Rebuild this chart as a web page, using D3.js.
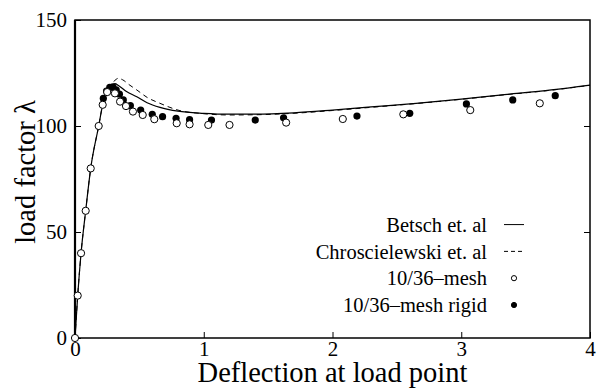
<!DOCTYPE html>
<html>
<head>
<meta charset="utf-8">
<script src="https://cdn.jsdelivr.net/npm/d3@7"></script>
<style>
  body { margin: 0; background: #fff; }
  svg { display: block; }
  text { font-family: "Liberation Serif", "Times New Roman", serif; fill: #000; }
</style>
</head>
<body>
<svg id="chart"></svg>
<script>
// Betsch et. al (solid)
var betschX = [0, 0.021, 0.047, 0.083, 0.122, 0.184, 0.215, 0.25, 0.28, 0.31, 0.34, 0.4, 0.48, 0.56, 0.66, 0.8, 1.0, 1.2, 1.4, 1.7, 2.0, 2.3, 2.65, 3.0, 3.3, 3.7, 4.0]
var betschY = [0, 20, 40, 60, 80, 100, 110, 116, 118.8, 120, 119, 116.3, 113.8, 111, 108.8, 107, 106, 105.6, 105.6, 106.2, 107.5, 109, 110.7, 112.7, 114.6, 117, 119.3]

// Chroscielewski et. al (dashed)
var chroX = [0, 0.021, 0.047, 0.083, 0.122, 0.184, 0.215, 0.25, 0.28, 0.31, 0.336, 0.37, 0.42, 0.48, 0.56, 0.66, 0.8, 1.0, 1.2, 1.4, 1.7, 2.0, 2.3, 2.65, 3.0, 3.3, 3.7, 4.0]
var chroY = [0, 20, 40, 60, 80, 100, 110, 116, 119.5, 121.5, 122.5, 121.8, 119.5, 117, 113.5, 110.7, 107.5, 105.8, 105.2, 105.3, 106, 107.3, 108.8, 110.6, 112.6, 114.5, 116.9, 119.2]

// 10/36-mesh (open circles)
var meshX = [0, 0.021, 0.047, 0.083, 0.122, 0.184, 0.215, 0.25, 0.31, 0.35, 0.396, 0.45, 0.526, 0.616, 0.79, 0.89, 1.035, 1.2, 1.64, 2.08, 2.55, 3.07, 3.61]
var meshY = [0, 20, 40, 60, 80, 100, 110, 116, 115.4, 111.5, 109.4, 106.8, 105.2, 103.2, 101.3, 100.8, 100.5, 100.5, 101.6, 103.3, 105.5, 107.5, 110.7]

// 10/36-mesh rigid (filled circles)
var rigidX = [0.22, 0.245, 0.27, 0.295, 0.32, 0.345, 0.375, 0.43, 0.51, 0.6, 0.68, 0.785, 0.89, 1.06, 1.4, 1.62, 2.19, 2.6, 3.04, 3.4, 3.73]
var rigidY = [113, 116.5, 118.2, 118.5, 117, 115, 112.3, 109.6, 107.5, 105.5, 104.4, 103.6, 103.0, 102.8, 102.8, 103.9, 104.7, 106, 110.4, 112.3, 114.3]

var xTicks = [0, 1, 2, 3, 4]
var yTicks = [0, 50, 100, 150]
var legendLabels = ["Betsch et. al", "Chroscielewski et. al", "10/36\u2013mesh", "10/36\u2013mesh rigid"]

var dimensions = {
    width: 599,
    height: 390,
    margin: { top: 20, bottom: 52, right: 9, left: 75 }
}
dimensions.boundedWidth = dimensions.width - dimensions.margin.left - dimensions.margin.right
dimensions.boundedHeight = dimensions.height - dimensions.margin.top - dimensions.margin.bottom

var svg = d3.select("#chart")
    .attr("width", dimensions.width)
    .attr("height", dimensions.height)

var g = svg.append("g")
    .attr("transform", "translate(" + dimensions.margin.left + "," + dimensions.margin.top + ")")

var xScale = d3.scaleLinear().domain([0, 4]).range([0, dimensions.boundedWidth])
var yScale = d3.scaleLinear().domain([0, 150]).range([dimensions.boundedHeight, 0])

var zip = (xs, ys) => xs.map((x, i) => [x, ys[i]])

// frame
g.append("rect")
    .attr("width", dimensions.boundedWidth)
    .attr("height", dimensions.boundedHeight)
    .attr("fill", "none")
    .attr("stroke", "#000")
    .attr("stroke-width", 1.5)
g.append("line")
    .attr("y2", dimensions.boundedHeight)
    .attr("stroke", "#000")
    .attr("stroke-width", 2.2)

// bottom axis: inward ticks
var xAxis = g.append("g")
    .attr("transform", "translate(0," + dimensions.boundedHeight + ")")
    .call(d3.axisBottom(xScale).tickValues(xTicks).tickSize(-6).tickFormat(d3.format("d")))
xAxis.select(".domain").remove()
xAxis.selectAll("text").style("font-size", "21px").attr("dy", "0.71em").attr("y", 3)

var yAxis = g.append("g")
    .call(d3.axisLeft(yScale).tickValues(yTicks).tickSize(-6).tickFormat(d3.format("d")))
yAxis.select(".domain").remove()
yAxis.selectAll("text").style("font-size", "21px").attr("x", -8)

var yAxisR = g.append("g")
    .attr("transform", "translate(" + dimensions.boundedWidth + ",0)")
    .call(d3.axisRight(yScale).tickValues([50, 100]).tickSize(-6).tickFormat(""))
yAxisR.select(".domain").remove()

// curves
var line = d3.line()
    .x(d => xScale(d[0]))
    .y(d => yScale(d[1]))
    .curve(d3.curveMonotoneX)

g.append("path")
    .datum(zip(chroX, chroY))
    .attr("d", line)
    .attr("fill", "none")
    .attr("stroke", "#000")
    .attr("stroke-width", 1)
    .attr("stroke-dasharray", "5,4")

g.append("path")
    .datum(zip(betschX, betschY))
    .attr("d", line)
    .attr("fill", "none")
    .attr("stroke", "#000")
    .attr("stroke-width", 1.2)

// markers
g.selectAll(".rigid")
    .data(zip(rigidX, rigidY))
    .enter().append("circle")
    .attr("cx", d => xScale(d[0]))
    .attr("cy", d => yScale(d[1]))
    .attr("r", 3.6)
    .attr("fill", "#000")

g.selectAll(".mesh")
    .data(zip(meshX, meshY))
    .enter().append("circle")
    .attr("cx", d => xScale(d[0]))
    .attr("cy", d => yScale(d[1]))
    .attr("r", 3.6)
    .attr("fill", "#fff")
    .attr("stroke", "#000")
    .attr("stroke-width", 1)

// legend
var legend = g.append("g")
    .attr("transform", "translate(" + (487 - dimensions.margin.left) + "," + (yScale(53.5)) + ")")

legendLabels.forEach(function (label, i) {
    var row = legend.append("g").attr("transform", "translate(0," + (i * 26.8) + ")")
    row.append("text")
        .attr("text-anchor", "end")
        .attr("dy", "0.35em")
        .style("font-size", "20.5px")
        .text(label)
    if (i == 0 || i == 1) {
        row.append("line")
            .attr("x1", 17).attr("x2", 37)
            .attr("stroke", "#000")
            .attr("stroke-width", 1)
            .attr("stroke-dasharray", i == 1 ? "4,3" : null)
    } else {
        row.append("circle")
            .attr("cx", 27)
            .attr("r", 2.6)
            .attr("fill", i == 2 ? "#fff" : "#000")
            .attr("stroke", "#000")
            .attr("stroke-width", 1)
    }
})

//axis labels
svg.append("text")
    .attr("x", dimensions.margin.left + dimensions.boundedWidth / 2)
    .attr("y", 382)
    .style("text-anchor", "middle")
    .style("font-size", "28.5px")
    .text("Deflection at load point")

svg.append("text")
    .attr("transform", "translate(35," + (dimensions.margin.top + 152) + ") rotate(-90)")
    .style("text-anchor", "middle")
    .style("font-size", "28.5px")
    .text("load factor \u03bb")
</script>
</body>
</html>
